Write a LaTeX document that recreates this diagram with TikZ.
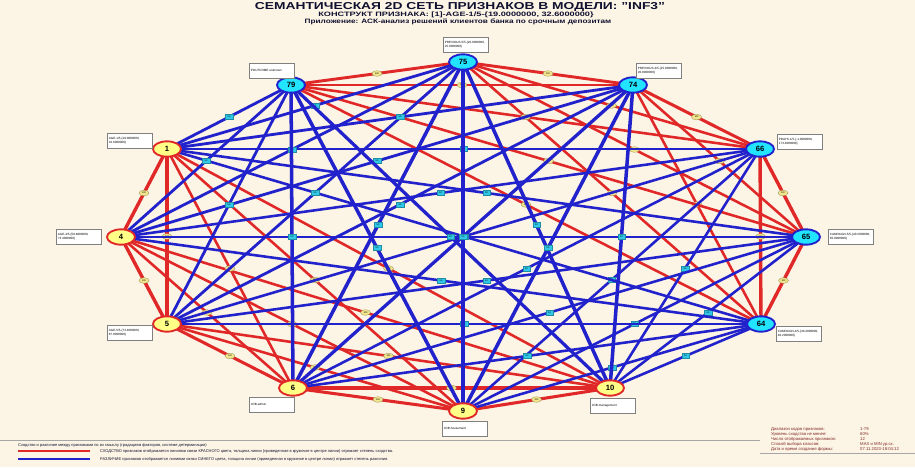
\documentclass[tikz,border=0pt]{standalone}
\usepackage{fontspec}
\setmainfont{Liberation Sans}
\usetikzlibrary{shapes.geometric}
\definecolor{bgc}{HTML}{FCF4E4}
\definecolor{redl}{HTML}{E02828}
\definecolor{bluel}{HTML}{2222CC}
\definecolor{cyanf}{HTML}{22E4FF}
\definecolor{yelf}{HTML}{FFFF88}
\definecolor{mky}{HTML}{F2E68C}
\definecolor{mkc}{HTML}{30C8E8}
\definecolor{titc}{HTML}{101030}
\definecolor{infoc}{HTML}{802828}
\tikzset{
  posnode/.style={ellipse,draw=bluel,line width=1.6pt,fill=cyanf,minimum width=0.84cm,minimum height=0.46cm,inner sep=0pt,font=\bfseries\fontsize{6.5}{7}\selectfont},
  negnode/.style={ellipse,draw=redl,line width=1.6pt,fill=yelf,minimum width=0.84cm,minimum height=0.46cm,inner sep=0pt,font=\bfseries\fontsize{6.5}{7}\selectfont},
  simedge/.style={draw=redl},
  difedge/.style={draw=bluel},
  simmark/.style={ellipse,fill=mky,draw=mky!60!black,line width=0.25pt,inner sep=0.3pt,minimum width=0.3cm,minimum height=0.17cm,font=\fontsize{2}{2}\selectfont},
  difmark/.style={rectangle,fill=mkc,draw=mkc!70!black,line width=0.2pt,inner sep=0.3pt,minimum width=0.22cm,minimum height=0.15cm,font=\fontsize{2}{2}\selectfont},
  infobox/.style={rectangle,draw=gray,fill=white,line width=0.4pt,minimum width=1.35cm,minimum height=0.44cm,inner sep=1pt,align=left,anchor=north west,font=\fontsize{2.6}{3}\selectfont,text width=1.25cm},
}
\begin{document}
\begin{tikzpicture}[x=0.03cm,y=-0.03cm]
\useasboundingbox (0,0) rectangle (915,467);
\fill[bgc] (0,0) rectangle (915,467);
% titles
\node (t1) at (460,7) {\bfseries\fontsize{8.6}{9}\selectfont\color{titc}\scalebox{1.37}[1]{СЕМАНТИЧЕСКАЯ 2D СЕТЬ ПРИЗНАКОВ В МОДЕЛИ: "INF3"}};
\node (t2) at (456,15) {\bfseries\fontsize{5.4}{6}\selectfont\color{titc}\scalebox{1.45}[1]{КОНСТРУКТ ПРИЗНАКА: [1]-AGE-1/5-\{19.0000000, 32.6000000\}}};
\node (t3) at (458,21.5) {\bfseries\fontsize{5.4}{6}\selectfont\color{titc}\scalebox{1.3}[1]{Приложение: АСК-анализ решений клиентов банка по срочным депозитам}};
% node positions
\coordinate (p75) at (463,62);
\coordinate (p74) at (633,85);
\coordinate (p66) at (760,149);
\coordinate (p65) at (806,237);
\coordinate (p64) at (761,324);
\coordinate (p10) at (610,388);
\coordinate (p9) at (463,411);
\coordinate (p6) at (293,388);
\coordinate (p5) at (167,324);
\coordinate (p4) at (121,237);
\coordinate (p1) at (167,149);
\coordinate (p79) at (291,85);
% similarity (red) edges
\foreach \a/\b/\w in {75/74/2.5,75/79/2.5,74/79/2.5,74/66/2.6,66/65/2.9,65/64/2.9,66/64/2.9,
  75/66/2.2,75/65/2.2,75/64/2.2,74/65/2.2,74/64/2.2,66/79/2.2,65/79/2.2,64/79/2.2,
  10/9/2.6,9/6/2.6,10/6/2.6,6/5/2.6,5/4/2.9,4/1/2.9,5/1/2.9,
  10/5/2.2,10/4/2.2,10/1/2.2,9/5/2.2,9/4/2.2,9/1/2.2,6/4/2.2,6/1/2.2}
  \draw[simedge,line width=\w pt] (p\a) -- (p\b) node[midway,simmark] (s\a-\b) {100};
% difference (blue) edges
\foreach \a in {66,65,64}
  \foreach \b in {10,9,6,5,4,1}
    \draw[difedge,line width=2.2pt] (p\a) -- (p\b) node[midway,difmark] (d\a-\b) {50};
\foreach \a in {75,74,79}
  \foreach \b in {5,4,1}
    \draw[difedge,line width=2.4pt] (p\a) -- (p\b) node[midway,difmark] (d\a-\b) {50};
\foreach \a/\b/\w in {79/6/3.0,79/9/3.0,79/10/2.8,75/6/3.0,75/10/3.0,74/6/2.8,74/9/3.0,74/10/3.0,75/9/3.8}
  \draw[difedge,line width=\w pt] (p\a) -- (p\b) node[midway,difmark] (d\a-\b) {50};
% feature nodes
\node[posnode] (n75) at (p75) {75};
\node[posnode] (n74) at (p74) {74};
\node[posnode] (n66) at (p66) {66};
\node[posnode] (n65) at (p65) {65};
\node[posnode] (n64) at (p64) {64};
\node[posnode] (n79) at (p79) {79};
\node[negnode] (n10) at (p10) {10};
\node[negnode] (n9) at (p9) {9};
\node[negnode] (n6) at (p6) {6};
\node[negnode] (n5) at (p5) {5};
\node[negnode] (n4) at (p4) {4};
\node[negnode] (n1) at (p1) {1};
% name boxes
\node[infobox] (b79) at (249,63) {POUTCOME-unknown};
\node[infobox] (b75) at (443,37) {PREVIOUS-5/5-\{20.0000000, 25.0000000\}};
\node[infobox] (b74) at (636,63) {PREVIOUS-4/5-\{15.0000000, 20.0000000\}};
\node[infobox] (b66) at (777,134) {PDAYS-1/5-\{-1.0000000, 173.4000000\}};
\node[infobox] (b65) at (828,229) {CAMPAIGN-5/5-\{40.2000000, 50.0000000\}};
\node[infobox] (b64) at (776,326) {CAMPAIGN-4/5-\{30.4000000, 40.2000000\}};
\node[infobox] (b10) at (590,398) {JOB-management};
\node[infobox] (b9) at (442,421) {JOB-housemaid};
\node[infobox] (b6) at (249,397) {JOB-admin.};
\node[infobox] (b5) at (107,325) {AGE-5/5-\{73.4000000, 87.0000000\}};
\node[infobox] (b4) at (56,229) {AGE-4/5-\{59.8000000, 73.4000000\}};
\node[infobox] (b1) at (107,133) {AGE-1/5-\{19.0000000, 32.6000000\}};
% legend
\coordinate (la) at (0,440);
\coordinate (lb) at (760,440);
\draw[gray!70,line width=0.5pt] (la) -- (lb);
\coordinate (ra) at (760,453);
\coordinate (rb) at (915,453);
\draw[gray!70,line width=0.5pt] (ra) -- (rb);
\node[anchor=west,inner sep=0pt,font=\fontsize{3.4}{4}\selectfont,text=titc] (l0) at (18,445) {Сходство и различие между признаками по их смыслу (градациям факторов, системе детерминации)};
\coordinate (r1a) at (18,451);
\coordinate (r1b) at (90,451);
\draw[redl,line width=1.6pt] (r1a) -- (r1b);
\coordinate (r2a) at (18,459);
\coordinate (r2b) at (90,459);
\draw[bluel,line width=1.6pt] (r2a) -- (r2b);
\node[anchor=west,inner sep=0pt,font=\fontsize{3.4}{4}\selectfont,text=titc] (l1) at (100,451) {СХОДСТВО признаков отображается линиями связи КРАСНОГО цвета, толщина линии (приведенная в кружочке в центре линии) отражает степень сходства.};
\node[anchor=west,inner sep=0pt,font=\fontsize{3.4}{4}\selectfont,text=titc] (l2) at (100,459) {РАЗЛИЧИЕ признаков отображается линиями связи СИНЕГО цвета, толщина линии (приведенная в кружочке в центре линии) отражает степень различия.};
% info block
\node[anchor=north west,inner sep=0pt,align=left,font=\fontsize{3.6}{4.3}\selectfont,text=infoc] (info1) at (771,427) {Диапазон кодов признаков:\\Уровень сходства не менее:\\Число отображаемых признаков:\\Способ выбора классов:\\Дата и время создания формы:};
\node[anchor=north west,inner sep=0pt,align=left,font=\fontsize{3.6}{4.3}\selectfont,text=infoc] (info2) at (860,427) {1-79\\60\%\\12\\MAX и MIN ур.сх.\\07.11.2023-18:04:12};
\end{tikzpicture}
\end{document}
